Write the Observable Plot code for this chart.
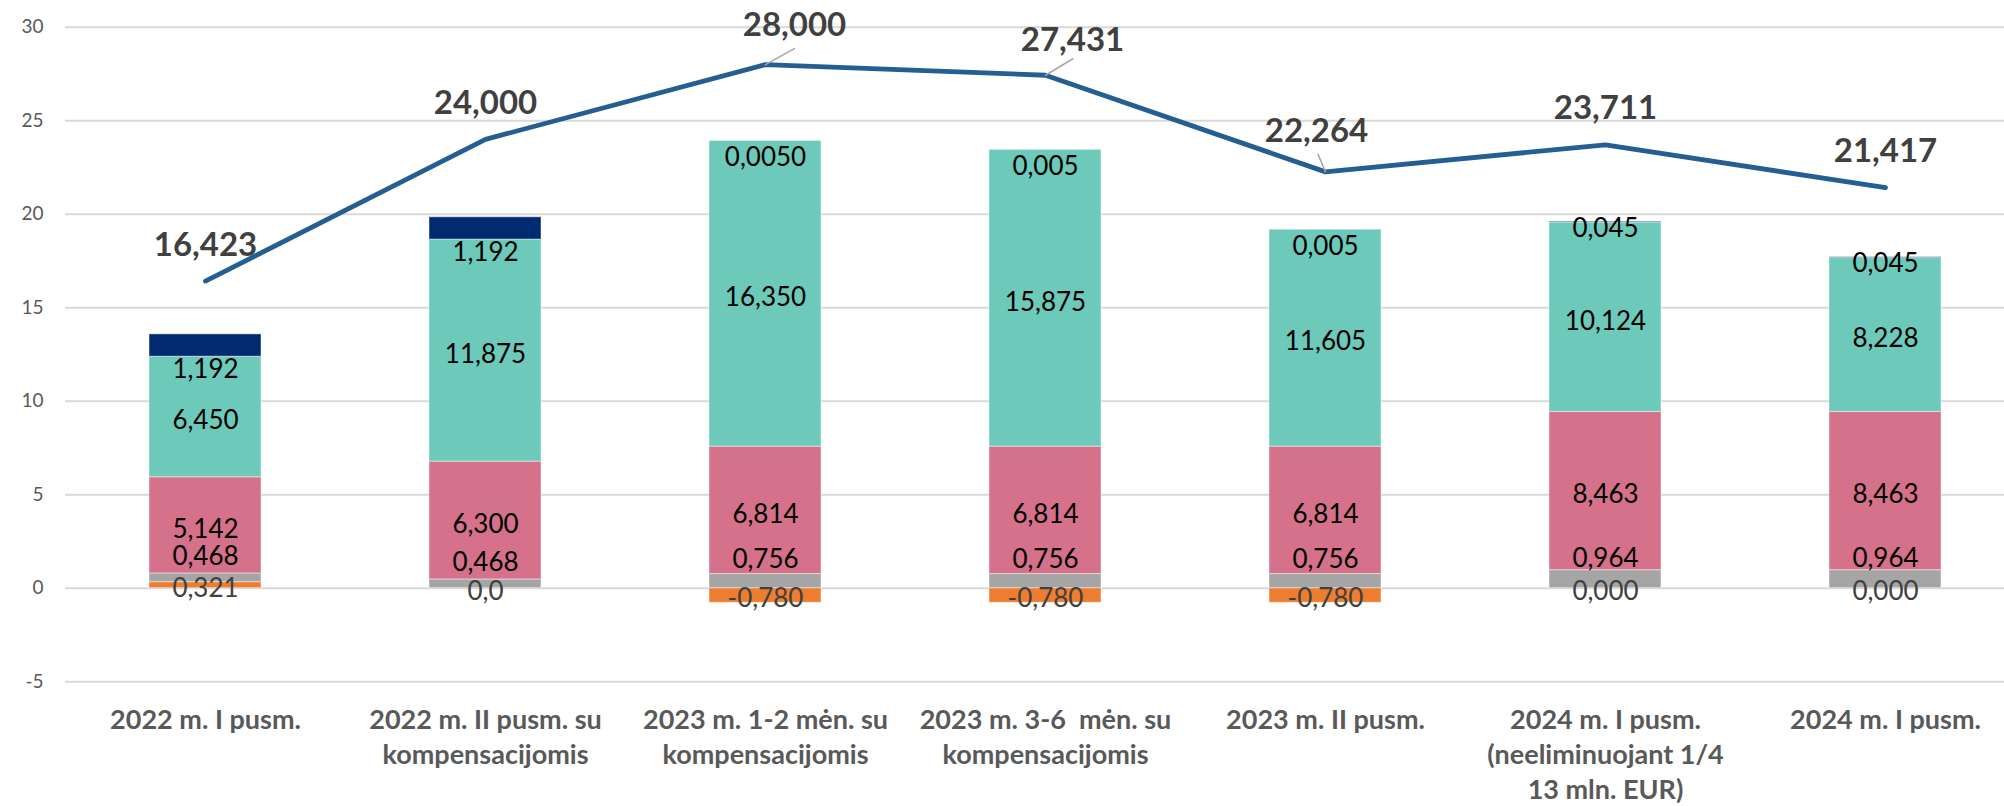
<!DOCTYPE html>
<html>
<head>
<meta charset="utf-8">
<script src="https://cdn.jsdelivr.net/npm/d3@7"></script>
<script src="https://cdn.jsdelivr.net/npm/@observablehq/plot@0.6"></script>
<style>
  html, body { margin: 0; padding: 0; background: #ffffff; }
  #chart svg { display: block; }
</style>
</head>
<body>
<div id="chart"></div>
<script>
// ---------- data ----------
const categories = [
  "2022 m. I pusm.",
  "2022 m. II pusm. su\nkompensacijomis",
  "2023 m. 1-2 mėn. su\nkompensacijomis",
  "2023 m. 3-6\u00a0 mėn. su\nkompensacijomis",
  "2023 m. II pusm.",
  "2024 m. I pusm.\n(neeliminuojant 1/4\n13 mln. EUR)",
  "2024 m. I pusm."
];
const orangeValues = [0.321, 0.0, -0.780, -0.780, -0.780, 0.000, 0.000];
const orangeText   = ["0,321", "0,0", "-0,780", "-0,780", "-0,780", "0,000", "0,000"];
const greyValues   = [0.468, 0.468, 0.756, 0.756, 0.756, 0.964, 0.964];
const pinkValues   = [5.142, 6.300, 6.814, 6.814, 6.814, 8.463, 8.463];
const tealValues   = [6.450, 11.875, 16.350, 15.875, 11.605, 10.124, 8.228];
const navyValues   = [1.192, 1.192, 0.0050, 0.005, 0.005, 0.045, 0.045];
const navyText     = ["1,192", "1,192", "0,0050", "0,005", "0,005", "0,045", "0,045"];
const totalValues  = [16.423, 24.000, 28.000, 27.431, 22.264, 23.711, 21.417];
const yTicks = [-5, 0, 5, 10, 15, 20, 25, 30];

// ---------- build stacked table ----------
const fmt = v => v.toFixed(3).replace(".", ",");
const seriesDefs = [
  {key: "orange", values: orangeValues, text: orangeText, color: "#ED7D31"},
  {key: "grey",   values: greyValues,   text: greyValues.map(fmt), color: "#A5A5A5"},
  {key: "pink",   values: pinkValues,   text: pinkValues.map(fmt), color: "#D5718A"},
  {key: "teal",   values: tealValues,   text: tealValues.map(fmt), color: "#6DCABA"},
  {key: "navy",   values: navyValues,   text: navyText,            color: "#002B70"}
];
const segments = [];
categories.forEach((cat, i) => {
  let pos = 0, neg = 0;
  for (const s of seriesDefs) {
    const v = s.values[i];
    let y1, y2;
    if (v >= 0) { y1 = pos; y2 = pos + v; pos = y2; }
    else { y1 = neg; y2 = neg + v; neg = y2; }
    segments.push({cat, i, series: s.key, value: v, y1, y2, mid: (y1 + y2) / 2, text: s.text[i], color: s.color});
  }
});
const totals = categories.map((cat, i) => ({cat, i, value: totalValues[i], text: fmt(totalValues[i])}));
const seg = k => segments.filter(d => d.series === k);

const segFont = {fontSize: 26, fontFamily: "Lato"};
const lineLabelFont = {fontSize: 33, fontWeight: "bold", fill: "#404040", fontFamily: "Lato"};
const leaderShape = {draw(context, l) { context.moveTo(0, 0); context.lineTo(0, -l); }};

const chart = Plot.plot({
  width: 2004,
  height: 806,
  marginTop: 26.7,
  marginBottom: 124.8,
  marginLeft: 65,
  marginRight: 0,
  style: {fontFamily: "Lato", background: "#ffffff"},
  x: {domain: categories, range: [65, 2025], paddingInner: 0.6, paddingOuter: 0.3, label: null, axis: null},
  y: {domain: [-5, 30], label: null},
  marks: [
    Plot.ruleY(yTicks, {stroke: "#D9D9D9", strokeWidth: 2}),
    Plot.axisY({ticks: yTicks, tickSize: 0, tickPadding: 22, fontSize: 19, fill: "#595959",
                tickFormat: d => String(d), label: null}),
    // category labels below the frame
    Plot.text(categories, {x: d => d, text: d => d, frameAnchor: "bottom", lineAnchor: "top", dy: 22.5,
                fontSize: 27, fontWeight: "bold", fill: "#595959", lineHeight: 1.3, fontFamily: "Lato"}),
    Plot.barY(segments, {x: "cat", y1: "y1", y2: "y2", fill: "color", stroke: "#ffffff", strokeOpacity: 0.45, strokeWidth: 1}),
    // segment labels
    Plot.text(seg("orange"), {x: "cat", y: "mid", text: "text", dy: 3.5, fill: "#404040", ...segFont}),
    Plot.text(seg("grey"),   {x: "cat", y: "mid", text: "text", dy: -21, fill: "#000000", ...segFont}),
    Plot.text(seg("pink"),   {x: "cat", y: "mid", text: "text", dy: 4, fill: "#000000", ...segFont}),
    Plot.text(seg("teal"),   {x: "cat", y: "mid", text: "text", dy: 4, fill: "#000000", ...segFont}),
    Plot.text(seg("navy").filter(d => d.value >= 1), {x: "cat", y: "mid", text: "text", dy: 24, fill: "#000000", ...segFont}),
    Plot.text(seg("navy").filter(d => d.value < 0.01), {x: "cat", y: "mid", text: "text", dy: 17, fill: "#000000", ...segFont}),
    Plot.text(seg("navy").filter(d => d.value >= 0.01 && d.value < 1), {x: "cat", y: "mid", text: "text", dy: 6, fill: "#000000", ...segFont}),
    // total line
    Plot.line(totals, {x: "cat", y: "value", stroke: "#255E91", strokeWidth: 4.8, strokeLinecap: "round", strokeLinejoin: "round"}),
    // leader lines for moved labels
    Plot.vector(totals.filter(d => d.i === 2), {x: "cat", y: "value", length: 33, rotate: 61, anchor: "start", shape: leaderShape, stroke: "#A6A6A6", strokeWidth: 1.5}),
    Plot.vector(totals.filter(d => d.i === 3), {x: "cat", y: "value", length: 32, rotate: 59, anchor: "start", shape: leaderShape, stroke: "#A6A6A6", strokeWidth: 1.5}),
    Plot.vector(totals.filter(d => d.i === 4), {x: "cat", y: "value", length: 19, rotate: -23, anchor: "start", shape: leaderShape, stroke: "#A6A6A6", strokeWidth: 1.5}),
    // line labels
    Plot.text(totals.filter(d => ![2, 3, 4].includes(d.i)), {x: "cat", y: "value", text: "text", dy: -36, ...lineLabelFont}),
    Plot.text(totals.filter(d => d.i === 2), {x: "cat", y: "value", text: "text", dx: 29, dy: -39, ...lineLabelFont}),
    Plot.text(totals.filter(d => d.i === 3), {x: "cat", y: "value", text: "text", dx: 27, dy: -35, ...lineLabelFont}),
    Plot.text(totals.filter(d => d.i === 4), {x: "cat", y: "value", text: "text", dx: -9, dy: -40, ...lineLabelFont})
  ]
});
document.getElementById("chart").appendChild(chart);
</script>
</body>
</html>
